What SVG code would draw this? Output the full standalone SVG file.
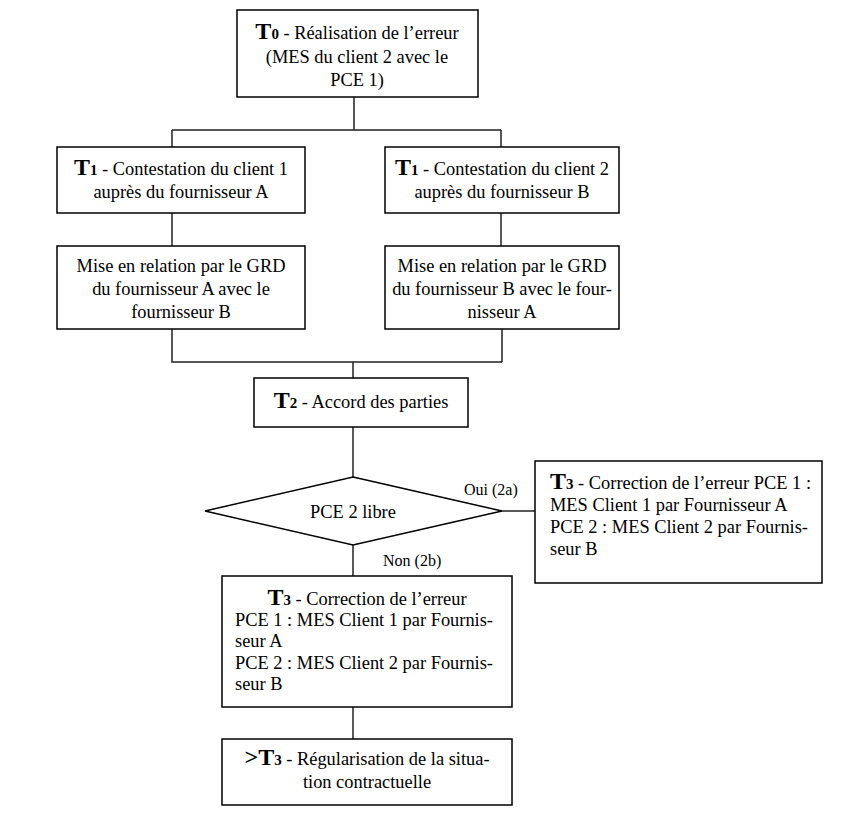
<svg xmlns="http://www.w3.org/2000/svg" width="848" height="823" viewBox="0 0 848 823">
<style>
.box{fill:#fff;stroke:#000;stroke-width:1.5}
.ln{fill:none;stroke:#222;stroke-width:1.5}
text{font-family:"Liberation Serif","Times New Roman",serif;font-size:18.4px;fill:#000}
.c{text-anchor:middle}
.b{font-weight:bold;font-size:24px}
.s{font-weight:bold;font-size:15px}
.lbl{font-size:16px}
</style>
<rect width="848" height="823" fill="#fff"/>
<g id="connectors">
<path class="ln" d="M354 97V130M172 130H501M172 130V147M501 130V147"/>
<path class="ln" d="M172 213V246M501 213V246"/>
<path class="ln" d="M172 329V362H502M502 329V362M353 362V378"/>
<path class="ln" d="M353 427V477"/>
<path class="ln" d="M502 511H535"/>
<path class="ln" d="M353 545V576"/>
<path class="ln" d="M353 707V739"/>
<text class="lbl" x="464" y="495">Oui (2a)</text>
<text class="lbl" x="383" y="566">Non (2b)</text>
</g>
<g id="t0">
<rect class="box" x="237" y="10" width="241" height="87"/>
<text class="c" x="357" y="39"><tspan class="b">T</tspan><tspan class="s">0</tspan> - Réalisation de l’erreur</text>
<text class="c" x="357" y="63">(MES du client 2 avec le</text>
<text class="c" x="357" y="86">PCE 1)</text>
</g>
<g id="t1a">
<rect class="box" x="57" y="147" width="248" height="66"/>
<text class="c" x="181" y="175"><tspan class="b">T</tspan><tspan class="s">1</tspan> - Contestation du client 1</text>
<text class="c" x="181" y="198">auprès du fournisseur A</text>
</g>
<g id="t1b">
<rect class="box" x="385" y="147" width="234" height="66"/>
<text class="c" x="502" y="175"><tspan class="b">T</tspan><tspan class="s">1</tspan> - Contestation du client 2</text>
<text class="c" x="502" y="198">auprès du fournisseur B</text>
</g>
<g id="mra">
<rect class="box" x="57" y="246" width="248" height="83"/>
<text class="c" x="181" y="272">Mise en relation par le GRD</text>
<text class="c" x="181" y="295">du fournisseur A avec le</text>
<text class="c" x="181" y="318">fournisseur B</text>
</g>
<g id="mrb">
<rect class="box" x="385" y="246" width="234" height="83"/>
<text class="c" x="502" y="272">Mise en relation par le GRD</text>
<text class="c" x="502" y="295">du fournisseur B avec le four-</text>
<text class="c" x="502" y="318">nisseur A</text>
</g>
<g id="t2">
<rect class="box" x="254" y="378" width="214" height="49"/>
<text class="c" x="361" y="408"><tspan class="b">T</tspan><tspan class="s">2</tspan> - Accord des parties</text>
</g>
<g id="dec">
<polygon class="box" points="353,477 502,511 353,545 205,511"/>
<text class="c" x="353" y="518">PCE 2 libre</text>
</g>
<g id="t3a">
<rect class="box" x="535" y="461" width="287" height="122"/>
<text x="550" y="489"><tspan class="b">T</tspan><tspan class="s">3</tspan> - Correction de l’erreur PCE 1 :</text>
<text x="550" y="511">MES Client 1 par Fournisseur A</text>
<text x="550" y="533">PCE 2 : MES Client 2 par Fournis-</text>
<text x="550" y="555">seur B</text>
</g>
<g id="t3b">
<rect class="box" x="222" y="576" width="290" height="131"/>
<text class="c" x="367" y="605"><tspan class="b">T</tspan><tspan class="s">3</tspan> - Correction de l’erreur</text>
<text x="235" y="626">PCE 1 : MES Client 1 par Fournis-</text>
<text x="235" y="647">seur A</text>
<text x="235" y="669">PCE 2 : MES Client 2 par Fournis-</text>
<text x="235" y="690">seur B</text>
</g>
<g id="t3c">
<rect class="box" x="222" y="739" width="290" height="66"/>
<text class="c" x="367" y="765"><tspan class="b">&gt;T</tspan><tspan class="s">3</tspan> - Régularisation de la situa-</text>
<text class="c" x="367" y="788">tion contractuelle</text>
</g>
</svg>
